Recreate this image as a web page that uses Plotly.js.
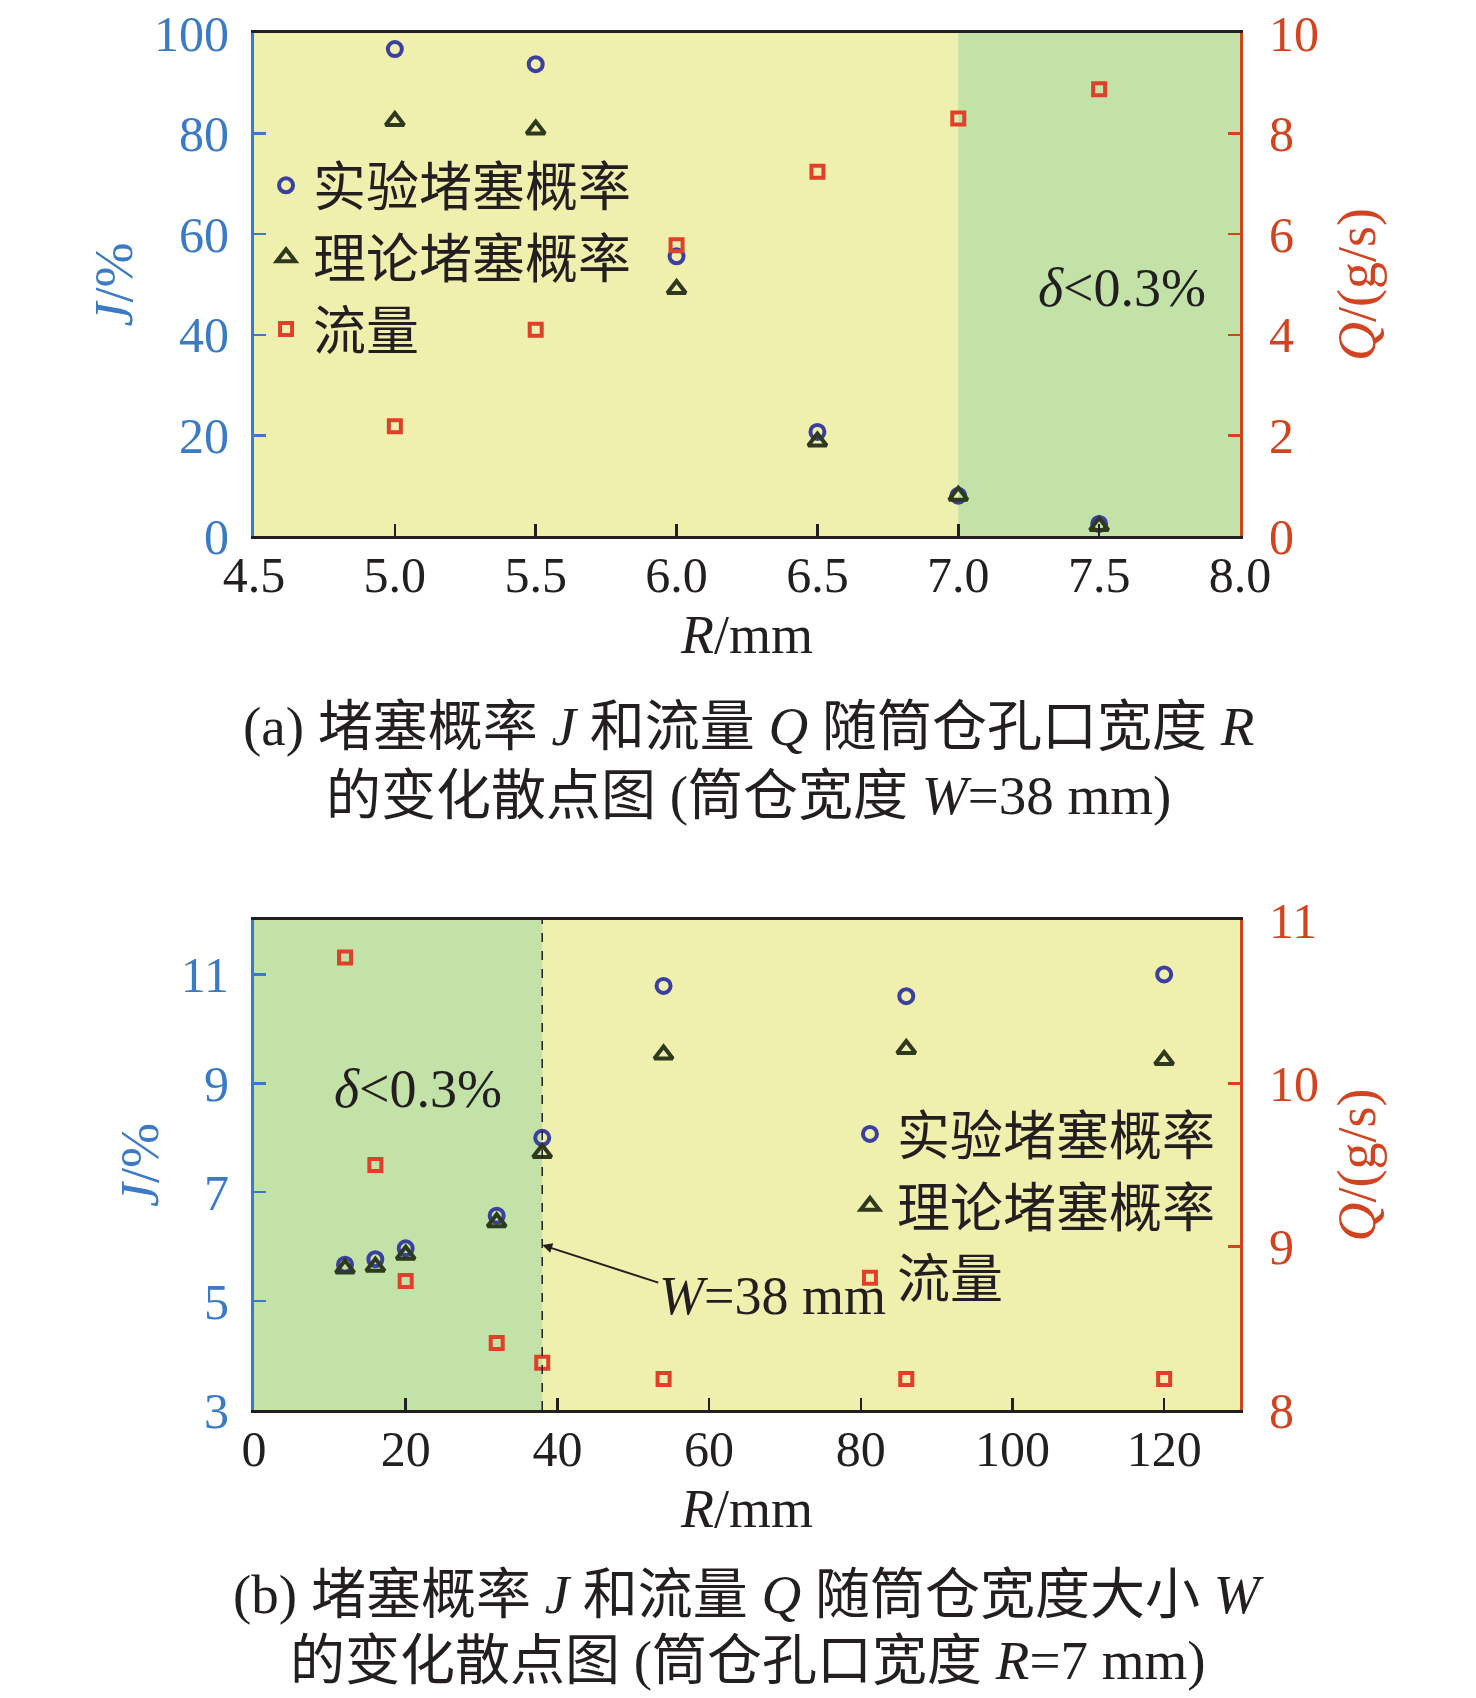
<!DOCTYPE html>
<html>
<head>
<meta charset="utf-8">
<script src="https://cdn.plot.ly/plotly-3.0.1.min.js"></script>
<style>
  html, body { margin: 0; padding: 0; background: #fff; }
  #chart { width: 1476px; height: 1698px; }
</style>
</head>
<body>
<div id="chart"></div>
<script>
// (a) 筒仓孔口宽度 R
var rValues = [5.0, 5.5, 6.0, 6.5, 7.0, 7.5];
var jExpA = [96.8, 93.8, 55.6, 20.7, 8.0, 2.4];
var jTheoA = [82.5, 80.8, 49.1, 18.8, 8.0, 2.0];
var flowA = [2.18, 4.10, 5.78, 7.24, 8.30, 8.88];

// (b) 筒仓宽度 W
var wValues = [12, 16, 20, 32, 38, 54, 86, 120];
var jExpB = [5.67, 5.77, 5.97, 6.57, 8.0, 10.79, 10.6, 11.0];
var jTheoB = [5.6, 5.63, 5.85, 6.45, 7.72, 9.53, 9.63, 9.43];
var flowB = [10.77, 9.5, 8.79, 8.41, 8.29, 8.19, 8.19, 8.19];

var seriesNames = ['实验堵塞概率', '理论堵塞概率', '流量'];
var tickLabelsA = ['4.5', '5.0', '5.5', '6.0', '6.5', '7.0', '7.5', '8.0'];

var FONT = 'Liberation Serif, Noto Sans CJK SC';
var BLUE = '#3b7ac6';
var RED = '#d2441f';
var INK = '#231f20';
var YELLOW = '#f0f0ae';
var GREEN = '#c2e2a8';

var circleStyle = { symbol: 'circle-open', size: 14, color: '#3a3fa0', line: { width: 4 } };
var triStyle = { symbol: 'triangle-up-open', size: 16, color: '#2e3a1e', line: { width: 4 } };
var squareStyle = { symbol: 'square-open', size: 12, color: '#e0402a', line: { width: 4 } };

function pts(x, y, name, marker, xa, ya, legend) {
    return {
        x: x, y: y, name: name, type: 'scatter', mode: 'markers',
        marker: marker, xaxis: xa, yaxis: ya, legend: legend,
        hoverinfo: 'skip'
    };
}

var data = [
    pts(rValues, jExpA, seriesNames[0], circleStyle, 'x', 'y', 'legend'),
    pts(rValues, jTheoA, seriesNames[1], triStyle, 'x', 'y', 'legend'),
    pts(rValues, flowA, seriesNames[2], squareStyle, 'x', 'y2', 'legend'),
    pts(wValues, jExpB, seriesNames[0], circleStyle, 'x2', 'y3', 'legend2'),
    pts(wValues, jTheoB, seriesNames[1], triStyle, 'x2', 'y3', 'legend2'),
    pts(wValues, flowB, seriesNames[2], squareStyle, 'x2', 'y4', 'legend2')
];

var xDomain = [254 / 1476, 1240 / 1476];
var topDomain = [1 - 536 / 1698, 1 - 33 / 1698];
var botDomain = [1 - 1410 / 1698, 1 - 920 / 1698];

function xAxis(extra) {
    return Object.assign({
        domain: xDomain,
        showline: true, linecolor: INK, linewidth: 3, mirror: true,
        ticks: 'inside', ticklen: 12, tickwidth: 2.5, tickcolor: INK,
        tickfont: { family: FONT, size: 50, color: INK },
        ticklabelstandoff: -7,
        showgrid: false, zeroline: false,
        title: { text: '<i>R</i>/mm', font: { family: FONT, size: 54, color: INK }, standoff: 14 }
    }, extra);
}

function leftAxis(extra, titleText) {
    return Object.assign({
        showline: true, linecolor: BLUE, linewidth: 3,
        ticks: 'inside', ticklen: 12, tickwidth: 2.5, tickcolor: BLUE,
        tickfont: { family: FONT, size: 50, color: BLUE },
        ticklabelstandoff: 12,
        showgrid: false, zeroline: false,
        title: { text: titleText, font: { family: FONT, size: 54, color: BLUE }, standoff: 5 }
    }, extra);
}

function rightAxis(extra, titleText) {
    return Object.assign({
        side: 'right',
        showline: true, linecolor: RED, linewidth: 3,
        ticks: 'inside', ticklen: 12, tickwidth: 2.5, tickcolor: RED,
        tickfont: { family: FONT, size: 50, color: RED },
        ticklabelstandoff: 16,
        showgrid: false, zeroline: false,
        title: { text: titleText, font: { family: FONT, size: 54, color: RED }, standoff: 20 }
    }, extra);
}

var legendStyle = {
    font: { family: FONT, size: 53, color: INK },
    bgcolor: 'rgba(0,0,0,0)', borderwidth: 0,
    xanchor: 'left', yanchor: 'top', tracegroupgap: 0, itemwidth: 44
};

function caption(y, text) {
    return { xref: 'paper', yref: 'paper', x: 0.507, y: 1 - y / 1698,
             xanchor: 'center', yanchor: 'middle', showarrow: false,
             text: text, font: { family: FONT, size: 55, color: INK } };
}

var layout = {
    width: 1476,
    height: 1698,
    margin: { l: 0, r: 0, t: 0, b: 0 },
    paper_bgcolor: '#ffffff',
    plot_bgcolor: YELLOW,
    font: { family: FONT, color: INK },
    showlegend: true,
    legend: Object.assign({ x: 0.1755, y: 0.915 }, legendStyle),
    legend2: Object.assign({ x: 0.5711, y: 0.3563 }, legendStyle),

    xaxis: xAxis({ anchor: 'y', range: [4.5, 8.0], tickvals: [4.5, 5, 5.5, 6, 6.5, 7, 7.5, 8], ticktext: tickLabelsA }),
    yaxis: leftAxis({ domain: topDomain, anchor: 'x', range: [0, 100], dtick: 20 }, '<i>J</i>/%'),
    yaxis2: rightAxis({ overlaying: 'y', anchor: 'x', range: [0, 10], dtick: 2 }, '<i>Q</i>/(g/s)'),

    xaxis2: xAxis({ anchor: 'y3', range: [0, 130], dtick: 20, tick0: 0 }),
    yaxis3: leftAxis({ domain: botDomain, anchor: 'x2', range: [3, 12], tickvals: [3, 5, 7, 9, 11] }, '<i>J</i>/%'),
    yaxis4: rightAxis({ overlaying: 'y3', anchor: 'x2', range: [8, 11], dtick: 1 }, '<i>Q</i>/(g/s)'),

    shapes: [
        // stable region of (a)
        { type: 'rect', xref: 'x', yref: 'y domain', x0: 7.0, x1: 8.0, y0: 0, y1: 1,
          fillcolor: GREEN, line: { width: 0 }, layer: 'below' },
        // stable region of (b)
        { type: 'rect', xref: 'x2', yref: 'y3 domain', x0: 0, x1: 38, y0: 0, y1: 1,
          fillcolor: GREEN, line: { width: 0 }, layer: 'below' },
        { type: 'line', xref: 'x2', yref: 'y3 domain', x0: 38, x1: 38, y0: 0, y1: 1,
          line: { color: INK, width: 1.5, dash: 'dash' } }
    ],

    annotations: [
        { xref: 'x', yref: 'y', x: 7.58, y: 49.4, showarrow: false, xanchor: 'center', yanchor: 'middle',
          text: '<i>δ</i><0.3%', font: { family: FONT, size: 54, color: INK } },
        { xref: 'x2', yref: 'y3', x: 21.6, y: 8.9, showarrow: false, xanchor: 'center', yanchor: 'middle',
          text: '<i>δ</i><0.3%', font: { family: FONT, size: 54, color: INK } },
        { xref: 'x2', yref: 'y3', x: 38, y: 6.03, axref: 'x2', ayref: 'y3', ax: 53.5, ay: 5.33,
          text: '', showarrow: true, arrowhead: 2, arrowsize: 1, arrowwidth: 2, arrowcolor: INK, standoff: 0 },
        { xref: 'x2', yref: 'y3', x: 68.4, y: 5.09, showarrow: false, xanchor: 'center', yanchor: 'middle',
          text: '<i>W</i>=38 mm', font: { family: FONT, size: 54, color: INK } },

        caption(727, '(a) 堵塞概率 <i>J</i> 和流量 <i>Q</i> 随筒仓孔口宽度 <i>R</i>'),
        caption(795, '的变化散点图 (筒仓宽度 <i>W</i>=38 mm)'),
        caption(1594, '(b) 堵塞概率 <i>J</i> 和流量 <i>Q</i> 随筒仓宽度大小 <i>W</i>'),
        caption(1660, '的变化散点图 (筒仓孔口宽度 <i>R</i>=7 mm)')
    ]
};

Plotly.newPlot('chart', data, layout, { staticPlot: true, displayModeBar: false });
</script>
</body>
</html>
